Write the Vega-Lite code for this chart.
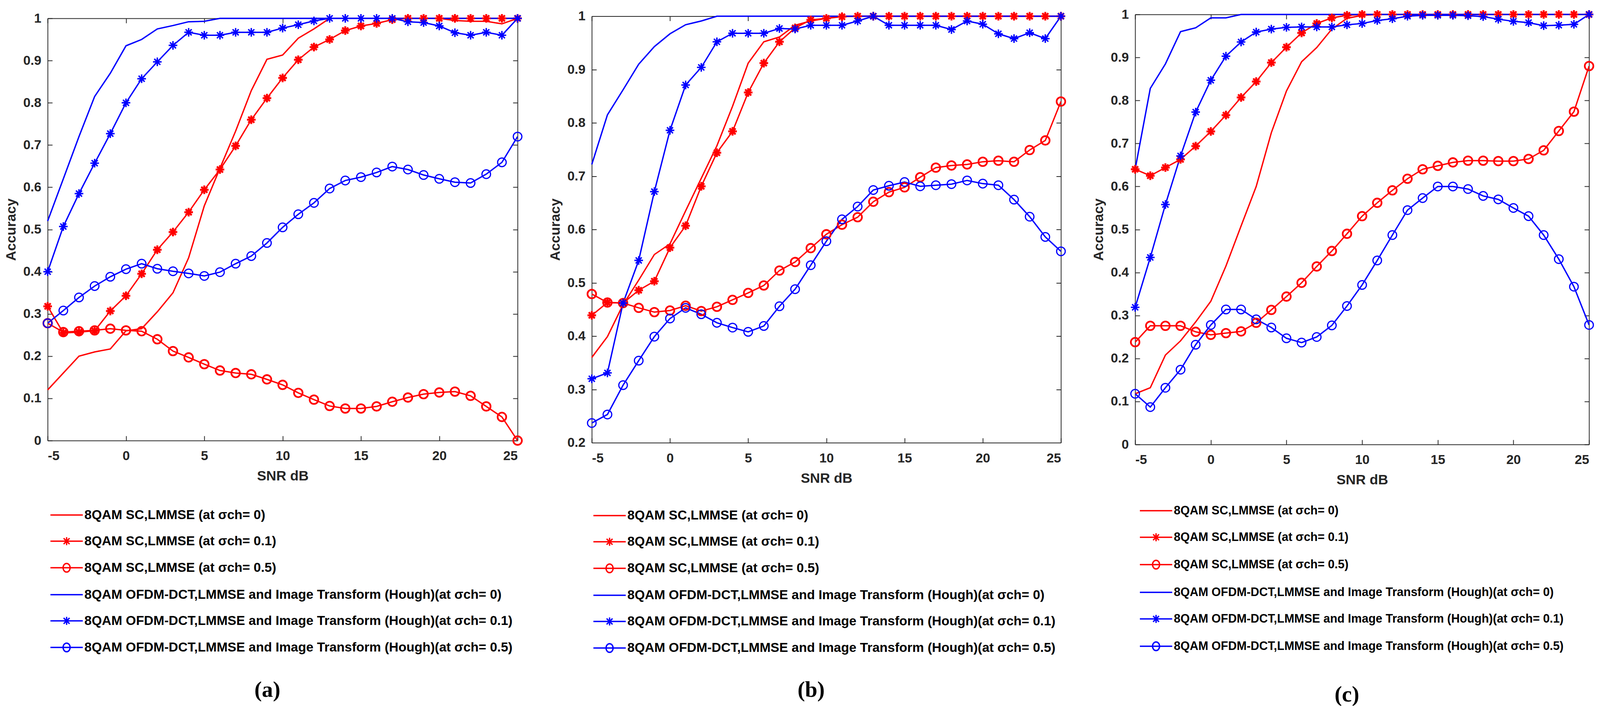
{
"$schema":"https://vega.github.io/schema/vega-lite/v6.json",
"background":"white",
"padding":{"left":11,"top":15,"right":0,"bottom":0},
"config":{
 "view":{"stroke":null},
 "axis":{"labelFont":"Liberation Sans","labelFontWeight":"bold","labelFontSize":33.5,"labelColor":"#262626","titleFont":"Liberation Sans","titleFontWeight":"bold","titleFontSize":35.5,"titleColor":"#262626","domainColor":"#262626","domainWidth":2,"tickColor":"#262626","tickWidth":2,"tickSize":-12,"grid":false},
 "legend":{"labelFont":"Liberation Sans","labelFontWeight":"bold","labelFontSize":33.5,"labelColor":"black","symbolSize":4761,"symbolStrokeWidth":3.5,"rowPadding":14,"labelOffset":9,"padding":0,"labelLimit":3000,"orient":"none"},
 "title":{"font":"Liberation Serif","fontSize":57,"fontWeight":"bold","color":"black","orient":"bottom","anchor":"middle"}
},
"datasets":{
"a":[
{"series":"SC0","snr":-5,"acc":0.12},{"series":"SC0","snr":-4,"acc":0.16},{"series":"SC0","snr":-3,"acc":0.2},{"series":"SC0","snr":-2,"acc":0.21},{"series":"SC0","snr":-1,"acc":0.217},{"series":"SC0","snr":0,"acc":0.26},{"series":"SC0","snr":1,"acc":0.265},{"series":"SC0","snr":2,"acc":0.305},{"series":"SC0","snr":3,"acc":0.35},{"series":"SC0","snr":4,"acc":0.433},{"series":"SC0","snr":5,"acc":0.556},{"series":"SC0","snr":6,"acc":0.645},{"series":"SC0","snr":7,"acc":0.733},{"series":"SC0","snr":8,"acc":0.829},{"series":"SC0","snr":9,"acc":0.903},{"series":"SC0","snr":10,"acc":0.913},{"series":"SC0","snr":11,"acc":0.953},{"series":"SC0","snr":12,"acc":0.975},{"series":"SC0","snr":13,"acc":1},{"series":"SC0","snr":14,"acc":1},{"series":"SC0","snr":15,"acc":1},{"series":"SC0","snr":16,"acc":1},{"series":"SC0","snr":17,"acc":1},{"series":"SC0","snr":18,"acc":1},{"series":"SC0","snr":19,"acc":1},{"series":"SC0","snr":20,"acc":1},{"series":"SC0","snr":21,"acc":0.995},{"series":"SC0","snr":22,"acc":0.993},{"series":"SC0","snr":23,"acc":0.993},{"series":"SC0","snr":24,"acc":0.987},{"series":"SC0","snr":25,"acc":1},
{"series":"SC1","snr":-5,"acc":0.318},{"series":"SC1","snr":-4,"acc":0.255},{"series":"SC1","snr":-3,"acc":0.257},{"series":"SC1","snr":-2,"acc":0.26},{"series":"SC1","snr":-1,"acc":0.307},{"series":"SC1","snr":0,"acc":0.343},{"series":"SC1","snr":1,"acc":0.395},{"series":"SC1","snr":2,"acc":0.452},{"series":"SC1","snr":3,"acc":0.494},{"series":"SC1","snr":4,"acc":0.541},{"series":"SC1","snr":5,"acc":0.594},{"series":"SC1","snr":6,"acc":0.642},{"series":"SC1","snr":7,"acc":0.698},{"series":"SC1","snr":8,"acc":0.76},{"series":"SC1","snr":9,"acc":0.811},{"series":"SC1","snr":10,"acc":0.859},{"series":"SC1","snr":11,"acc":0.902},{"series":"SC1","snr":12,"acc":0.932},{"series":"SC1","snr":13,"acc":0.95},{"series":"SC1","snr":14,"acc":0.971},{"series":"SC1","snr":15,"acc":0.982},{"series":"SC1","snr":16,"acc":0.988},{"series":"SC1","snr":17,"acc":0.997},{"series":"SC1","snr":18,"acc":1},{"series":"SC1","snr":19,"acc":1},{"series":"SC1","snr":20,"acc":1},{"series":"SC1","snr":21,"acc":1},{"series":"SC1","snr":22,"acc":1},{"series":"SC1","snr":23,"acc":1},{"series":"SC1","snr":24,"acc":1},{"series":"SC1","snr":25,"acc":1},
{"series":"SC5","snr":-5,"acc":0.278},{"series":"SC5","snr":-4,"acc":0.257},{"series":"SC5","snr":-3,"acc":0.259},{"series":"SC5","snr":-2,"acc":0.261},{"series":"SC5","snr":-1,"acc":0.265},{"series":"SC5","snr":0,"acc":0.261},{"series":"SC5","snr":1,"acc":0.259},{"series":"SC5","snr":2,"acc":0.24},{"series":"SC5","snr":3,"acc":0.212},{"series":"SC5","snr":4,"acc":0.197},{"series":"SC5","snr":5,"acc":0.181},{"series":"SC5","snr":6,"acc":0.166},{"series":"SC5","snr":7,"acc":0.16},{"series":"SC5","snr":8,"acc":0.157},{"series":"SC5","snr":9,"acc":0.145},{"series":"SC5","snr":10,"acc":0.132},{"series":"SC5","snr":11,"acc":0.113},{"series":"SC5","snr":12,"acc":0.097},{"series":"SC5","snr":13,"acc":0.082},{"series":"SC5","snr":14,"acc":0.076},{"series":"SC5","snr":15,"acc":0.076},{"series":"SC5","snr":16,"acc":0.081},{"series":"SC5","snr":17,"acc":0.092},{"series":"SC5","snr":18,"acc":0.102},{"series":"SC5","snr":19,"acc":0.11},{"series":"SC5","snr":20,"acc":0.114},{"series":"SC5","snr":21,"acc":0.116},{"series":"SC5","snr":22,"acc":0.106},{"series":"SC5","snr":23,"acc":0.081},{"series":"SC5","snr":24,"acc":0.056},{"series":"SC5","snr":25,"acc":0},
{"series":"OF0","snr":-5,"acc":0.52},{"series":"OF0","snr":-4,"acc":0.62},{"series":"OF0","snr":-3,"acc":0.72},{"series":"OF0","snr":-2,"acc":0.815},{"series":"OF0","snr":-1,"acc":0.87},{"series":"OF0","snr":0,"acc":0.935},{"series":"OF0","snr":1,"acc":0.95},{"series":"OF0","snr":2,"acc":0.975},{"series":"OF0","snr":3,"acc":0.983},{"series":"OF0","snr":4,"acc":0.992},{"series":"OF0","snr":5,"acc":0.993},{"series":"OF0","snr":6,"acc":1},{"series":"OF0","snr":7,"acc":1},{"series":"OF0","snr":8,"acc":1},{"series":"OF0","snr":9,"acc":1},{"series":"OF0","snr":10,"acc":1},{"series":"OF0","snr":11,"acc":1},{"series":"OF0","snr":12,"acc":1},{"series":"OF0","snr":13,"acc":1},{"series":"OF0","snr":14,"acc":1},{"series":"OF0","snr":15,"acc":1},{"series":"OF0","snr":16,"acc":1},{"series":"OF0","snr":17,"acc":1},{"series":"OF0","snr":18,"acc":1},{"series":"OF0","snr":19,"acc":1},{"series":"OF0","snr":20,"acc":1},{"series":"OF0","snr":21,"acc":1},{"series":"OF0","snr":22,"acc":1},{"series":"OF0","snr":23,"acc":1},{"series":"OF0","snr":24,"acc":1},{"series":"OF0","snr":25,"acc":1},
{"series":"OF1","snr":-5,"acc":0.4},{"series":"OF1","snr":-4,"acc":0.507},{"series":"OF1","snr":-3,"acc":0.585},{"series":"OF1","snr":-2,"acc":0.657},{"series":"OF1","snr":-1,"acc":0.727},{"series":"OF1","snr":0,"acc":0.8},{"series":"OF1","snr":1,"acc":0.857},{"series":"OF1","snr":2,"acc":0.897},{"series":"OF1","snr":3,"acc":0.936},{"series":"OF1","snr":4,"acc":0.967},{"series":"OF1","snr":5,"acc":0.96},{"series":"OF1","snr":6,"acc":0.96},{"series":"OF1","snr":7,"acc":0.967},{"series":"OF1","snr":8,"acc":0.967},{"series":"OF1","snr":9,"acc":0.967},{"series":"OF1","snr":10,"acc":0.977},{"series":"OF1","snr":11,"acc":0.985},{"series":"OF1","snr":12,"acc":0.994},{"series":"OF1","snr":13,"acc":1},{"series":"OF1","snr":14,"acc":1},{"series":"OF1","snr":15,"acc":1},{"series":"OF1","snr":16,"acc":1},{"series":"OF1","snr":17,"acc":1},{"series":"OF1","snr":18,"acc":0.992},{"series":"OF1","snr":19,"acc":0.99},{"series":"OF1","snr":20,"acc":0.982},{"series":"OF1","snr":21,"acc":0.966},{"series":"OF1","snr":22,"acc":0.96},{"series":"OF1","snr":23,"acc":0.967},{"series":"OF1","snr":24,"acc":0.96},{"series":"OF1","snr":25,"acc":1},
{"series":"OF5","snr":-5,"acc":0.278},{"series":"OF5","snr":-4,"acc":0.308},{"series":"OF5","snr":-3,"acc":0.339},{"series":"OF5","snr":-2,"acc":0.366},{"series":"OF5","snr":-1,"acc":0.388},{"series":"OF5","snr":0,"acc":0.406},{"series":"OF5","snr":1,"acc":0.419},{"series":"OF5","snr":2,"acc":0.407},{"series":"OF5","snr":3,"acc":0.401},{"series":"OF5","snr":4,"acc":0.396},{"series":"OF5","snr":5,"acc":0.39},{"series":"OF5","snr":6,"acc":0.399},{"series":"OF5","snr":7,"acc":0.419},{"series":"OF5","snr":8,"acc":0.437},{"series":"OF5","snr":9,"acc":0.468},{"series":"OF5","snr":10,"acc":0.505},{"series":"OF5","snr":11,"acc":0.536},{"series":"OF5","snr":12,"acc":0.563},{"series":"OF5","snr":13,"acc":0.597},{"series":"OF5","snr":14,"acc":0.616},{"series":"OF5","snr":15,"acc":0.624},{"series":"OF5","snr":16,"acc":0.635},{"series":"OF5","snr":17,"acc":0.649},{"series":"OF5","snr":18,"acc":0.642},{"series":"OF5","snr":19,"acc":0.629},{"series":"OF5","snr":20,"acc":0.62},{"series":"OF5","snr":21,"acc":0.612},{"series":"OF5","snr":22,"acc":0.61},{"series":"OF5","snr":23,"acc":0.631},{"series":"OF5","snr":24,"acc":0.659},{"series":"OF5","snr":25,"acc":0.72}
],
"b":[
{"series":"SC0","snr":-5,"acc":0.36},{"series":"SC0","snr":-4,"acc":0.399},{"series":"SC0","snr":-3,"acc":0.459},{"series":"SC0","snr":-2,"acc":0.505},{"series":"SC0","snr":-1,"acc":0.553},{"series":"SC0","snr":0,"acc":0.573},{"series":"SC0","snr":1,"acc":0.635},{"series":"SC0","snr":2,"acc":0.696},{"series":"SC0","snr":3,"acc":0.757},{"series":"SC0","snr":4,"acc":0.831},{"series":"SC0","snr":5,"acc":0.912},{"series":"SC0","snr":6,"acc":0.952},{"series":"SC0","snr":7,"acc":0.961},{"series":"SC0","snr":8,"acc":0.983},{"series":"SC0","snr":9,"acc":0.991},{"series":"SC0","snr":10,"acc":0.996},{"series":"SC0","snr":11,"acc":1},{"series":"SC0","snr":12,"acc":1},{"series":"SC0","snr":13,"acc":1},{"series":"SC0","snr":14,"acc":1},{"series":"SC0","snr":15,"acc":1},{"series":"SC0","snr":16,"acc":1},{"series":"SC0","snr":17,"acc":1},{"series":"SC0","snr":18,"acc":1},{"series":"SC0","snr":19,"acc":1},{"series":"SC0","snr":20,"acc":1},{"series":"SC0","snr":21,"acc":1},{"series":"SC0","snr":22,"acc":1},{"series":"SC0","snr":23,"acc":1},{"series":"SC0","snr":24,"acc":1},{"series":"SC0","snr":25,"acc":1},
{"series":"SC1","snr":-5,"acc":0.439},{"series":"SC1","snr":-4,"acc":0.463},{"series":"SC1","snr":-3,"acc":0.462},{"series":"SC1","snr":-2,"acc":0.486},{"series":"SC1","snr":-1,"acc":0.503},{"series":"SC1","snr":0,"acc":0.566},{"series":"SC1","snr":1,"acc":0.607},{"series":"SC1","snr":2,"acc":0.681},{"series":"SC1","snr":3,"acc":0.744},{"series":"SC1","snr":4,"acc":0.784},{"series":"SC1","snr":5,"acc":0.857},{"series":"SC1","snr":6,"acc":0.912},{"series":"SC1","snr":7,"acc":0.952},{"series":"SC1","snr":8,"acc":0.978},{"series":"SC1","snr":9,"acc":0.993},{"series":"SC1","snr":10,"acc":0.996},{"series":"SC1","snr":11,"acc":0.999},{"series":"SC1","snr":12,"acc":1},{"series":"SC1","snr":13,"acc":1},{"series":"SC1","snr":14,"acc":1},{"series":"SC1","snr":15,"acc":1},{"series":"SC1","snr":16,"acc":1},{"series":"SC1","snr":17,"acc":1},{"series":"SC1","snr":18,"acc":1},{"series":"SC1","snr":19,"acc":1},{"series":"SC1","snr":20,"acc":1},{"series":"SC1","snr":21,"acc":1},{"series":"SC1","snr":22,"acc":1},{"series":"SC1","snr":23,"acc":1},{"series":"SC1","snr":24,"acc":1},{"series":"SC1","snr":25,"acc":1},
{"series":"SC5","snr":-5,"acc":0.479},{"series":"SC5","snr":-4,"acc":0.463},{"series":"SC5","snr":-3,"acc":0.462},{"series":"SC5","snr":-2,"acc":0.453},{"series":"SC5","snr":-1,"acc":0.445},{"series":"SC5","snr":0,"acc":0.448},{"series":"SC5","snr":1,"acc":0.457},{"series":"SC5","snr":2,"acc":0.447},{"series":"SC5","snr":3,"acc":0.455},{"series":"SC5","snr":4,"acc":0.468},{"series":"SC5","snr":5,"acc":0.481},{"series":"SC5","snr":6,"acc":0.495},{"series":"SC5","snr":7,"acc":0.523},{"series":"SC5","snr":8,"acc":0.539},{"series":"SC5","snr":9,"acc":0.565},{"series":"SC5","snr":10,"acc":0.591},{"series":"SC5","snr":11,"acc":0.609},{"series":"SC5","snr":12,"acc":0.623},{"series":"SC5","snr":13,"acc":0.652},{"series":"SC5","snr":14,"acc":0.67},{"series":"SC5","snr":15,"acc":0.679},{"series":"SC5","snr":16,"acc":0.698},{"series":"SC5","snr":17,"acc":0.716},{"series":"SC5","snr":18,"acc":0.72},{"series":"SC5","snr":19,"acc":0.722},{"series":"SC5","snr":20,"acc":0.727},{"series":"SC5","snr":21,"acc":0.729},{"series":"SC5","snr":22,"acc":0.727},{"series":"SC5","snr":23,"acc":0.749},{"series":"SC5","snr":24,"acc":0.767},{"series":"SC5","snr":25,"acc":0.84},
{"series":"OF0","snr":-5,"acc":0.722},{"series":"OF0","snr":-4,"acc":0.815},{"series":"OF0","snr":-3,"acc":0.862},{"series":"OF0","snr":-2,"acc":0.91},{"series":"OF0","snr":-1,"acc":0.943},{"series":"OF0","snr":0,"acc":0.967},{"series":"OF0","snr":1,"acc":0.984},{"series":"OF0","snr":2,"acc":0.991},{"series":"OF0","snr":3,"acc":1},{"series":"OF0","snr":4,"acc":1},{"series":"OF0","snr":5,"acc":1},{"series":"OF0","snr":6,"acc":1},{"series":"OF0","snr":7,"acc":1},{"series":"OF0","snr":8,"acc":1},{"series":"OF0","snr":9,"acc":1},{"series":"OF0","snr":10,"acc":1},{"series":"OF0","snr":11,"acc":1},{"series":"OF0","snr":12,"acc":1},{"series":"OF0","snr":13,"acc":1},{"series":"OF0","snr":14,"acc":1},{"series":"OF0","snr":15,"acc":1},{"series":"OF0","snr":16,"acc":1},{"series":"OF0","snr":17,"acc":1},{"series":"OF0","snr":18,"acc":1},{"series":"OF0","snr":19,"acc":1},{"series":"OF0","snr":20,"acc":1},{"series":"OF0","snr":21,"acc":1},{"series":"OF0","snr":22,"acc":1},{"series":"OF0","snr":23,"acc":1},{"series":"OF0","snr":24,"acc":1},{"series":"OF0","snr":25,"acc":1},
{"series":"OF1","snr":-5,"acc":0.32},{"series":"OF1","snr":-4,"acc":0.331},{"series":"OF1","snr":-3,"acc":0.462},{"series":"OF1","snr":-2,"acc":0.542},{"series":"OF1","snr":-1,"acc":0.671},{"series":"OF1","snr":0,"acc":0.786},{"series":"OF1","snr":1,"acc":0.871},{"series":"OF1","snr":2,"acc":0.904},{"series":"OF1","snr":3,"acc":0.952},{"series":"OF1","snr":4,"acc":0.968},{"series":"OF1","snr":5,"acc":0.968},{"series":"OF1","snr":6,"acc":0.968},{"series":"OF1","snr":7,"acc":0.977},{"series":"OF1","snr":8,"acc":0.976},{"series":"OF1","snr":9,"acc":0.983},{"series":"OF1","snr":10,"acc":0.983},{"series":"OF1","snr":11,"acc":0.983},{"series":"OF1","snr":12,"acc":0.991},{"series":"OF1","snr":13,"acc":1},{"series":"OF1","snr":14,"acc":0.983},{"series":"OF1","snr":15,"acc":0.983},{"series":"OF1","snr":16,"acc":0.983},{"series":"OF1","snr":17,"acc":0.983},{"series":"OF1","snr":18,"acc":0.975},{"series":"OF1","snr":19,"acc":0.991},{"series":"OF1","snr":20,"acc":0.985},{"series":"OF1","snr":21,"acc":0.967},{"series":"OF1","snr":22,"acc":0.958},{"series":"OF1","snr":23,"acc":0.969},{"series":"OF1","snr":24,"acc":0.958},{"series":"OF1","snr":25,"acc":1},
{"series":"OF5","snr":-5,"acc":0.237},{"series":"OF5","snr":-4,"acc":0.253},{"series":"OF5","snr":-3,"acc":0.308},{"series":"OF5","snr":-2,"acc":0.354},{"series":"OF5","snr":-1,"acc":0.399},{"series":"OF5","snr":0,"acc":0.433},{"series":"OF5","snr":1,"acc":0.453},{"series":"OF5","snr":2,"acc":0.441},{"series":"OF5","snr":3,"acc":0.425},{"series":"OF5","snr":4,"acc":0.416},{"series":"OF5","snr":5,"acc":0.408},{"series":"OF5","snr":6,"acc":0.419},{"series":"OF5","snr":7,"acc":0.456},{"series":"OF5","snr":8,"acc":0.488},{"series":"OF5","snr":9,"acc":0.533},{"series":"OF5","snr":10,"acc":0.578},{"series":"OF5","snr":11,"acc":0.619},{"series":"OF5","snr":12,"acc":0.643},{"series":"OF5","snr":13,"acc":0.674},{"series":"OF5","snr":14,"acc":0.682},{"series":"OF5","snr":15,"acc":0.689},{"series":"OF5","snr":16,"acc":0.681},{"series":"OF5","snr":17,"acc":0.683},{"series":"OF5","snr":18,"acc":0.685},{"series":"OF5","snr":19,"acc":0.692},{"series":"OF5","snr":20,"acc":0.686},{"series":"OF5","snr":21,"acc":0.683},{"series":"OF5","snr":22,"acc":0.656},{"series":"OF5","snr":23,"acc":0.624},{"series":"OF5","snr":24,"acc":0.586},{"series":"OF5","snr":25,"acc":0.559}
],
"c":[
{"series":"SC0","snr":-5,"acc":0.118},{"series":"SC0","snr":-4,"acc":0.132},{"series":"SC0","snr":-3,"acc":0.208},{"series":"SC0","snr":-2,"acc":0.241},{"series":"SC0","snr":-1,"acc":0.285},{"series":"SC0","snr":0,"acc":0.333},{"series":"SC0","snr":1,"acc":0.415},{"series":"SC0","snr":2,"acc":0.508},{"series":"SC0","snr":3,"acc":0.6},{"series":"SC0","snr":4,"acc":0.725},{"series":"SC0","snr":5,"acc":0.822},{"series":"SC0","snr":6,"acc":0.89},{"series":"SC0","snr":7,"acc":0.923},{"series":"SC0","snr":8,"acc":0.966},{"series":"SC0","snr":9,"acc":0.991},{"series":"SC0","snr":10,"acc":0.998},{"series":"SC0","snr":11,"acc":1},{"series":"SC0","snr":12,"acc":1},{"series":"SC0","snr":13,"acc":1},{"series":"SC0","snr":14,"acc":1},{"series":"SC0","snr":15,"acc":1},{"series":"SC0","snr":16,"acc":1},{"series":"SC0","snr":17,"acc":1},{"series":"SC0","snr":18,"acc":1},{"series":"SC0","snr":19,"acc":1},{"series":"SC0","snr":20,"acc":1},{"series":"SC0","snr":21,"acc":1},{"series":"SC0","snr":22,"acc":1},{"series":"SC0","snr":23,"acc":1},{"series":"SC0","snr":24,"acc":1},{"series":"SC0","snr":25,"acc":1},
{"series":"SC1","snr":-5,"acc":0.64},{"series":"SC1","snr":-4,"acc":0.625},{"series":"SC1","snr":-3,"acc":0.644},{"series":"SC1","snr":-2,"acc":0.663},{"series":"SC1","snr":-1,"acc":0.694},{"series":"SC1","snr":0,"acc":0.728},{"series":"SC1","snr":1,"acc":0.766},{"series":"SC1","snr":2,"acc":0.807},{"series":"SC1","snr":3,"acc":0.844},{"series":"SC1","snr":4,"acc":0.888},{"series":"SC1","snr":5,"acc":0.924},{"series":"SC1","snr":6,"acc":0.957},{"series":"SC1","snr":7,"acc":0.979},{"series":"SC1","snr":8,"acc":0.992},{"series":"SC1","snr":9,"acc":0.998},{"series":"SC1","snr":10,"acc":1},{"series":"SC1","snr":11,"acc":1},{"series":"SC1","snr":12,"acc":1},{"series":"SC1","snr":13,"acc":1},{"series":"SC1","snr":14,"acc":1},{"series":"SC1","snr":15,"acc":1},{"series":"SC1","snr":16,"acc":1},{"series":"SC1","snr":17,"acc":1},{"series":"SC1","snr":18,"acc":1},{"series":"SC1","snr":19,"acc":1},{"series":"SC1","snr":20,"acc":1},{"series":"SC1","snr":21,"acc":1},{"series":"SC1","snr":22,"acc":1},{"series":"SC1","snr":23,"acc":1},{"series":"SC1","snr":24,"acc":1},{"series":"SC1","snr":25,"acc":1},
{"series":"SC5","snr":-5,"acc":0.238},{"series":"SC5","snr":-4,"acc":0.276},{"series":"SC5","snr":-3,"acc":0.276},{"series":"SC5","snr":-2,"acc":0.276},{"series":"SC5","snr":-1,"acc":0.262},{"series":"SC5","snr":0,"acc":0.255},{"series":"SC5","snr":1,"acc":0.259},{"series":"SC5","snr":2,"acc":0.263},{"series":"SC5","snr":3,"acc":0.283},{"series":"SC5","snr":4,"acc":0.313},{"series":"SC5","snr":5,"acc":0.344},{"series":"SC5","snr":6,"acc":0.376},{"series":"SC5","snr":7,"acc":0.414},{"series":"SC5","snr":8,"acc":0.45},{"series":"SC5","snr":9,"acc":0.49},{"series":"SC5","snr":10,"acc":0.531},{"series":"SC5","snr":11,"acc":0.562},{"series":"SC5","snr":12,"acc":0.591},{"series":"SC5","snr":13,"acc":0.618},{"series":"SC5","snr":14,"acc":0.64},{"series":"SC5","snr":15,"acc":0.648},{"series":"SC5","snr":16,"acc":0.656},{"series":"SC5","snr":17,"acc":0.66},{"series":"SC5","snr":18,"acc":0.66},{"series":"SC5","snr":19,"acc":0.659},{"series":"SC5","snr":20,"acc":0.659},{"series":"SC5","snr":21,"acc":0.664},{"series":"SC5","snr":22,"acc":0.684},{"series":"SC5","snr":23,"acc":0.729},{"series":"SC5","snr":24,"acc":0.774},{"series":"SC5","snr":25,"acc":0.88},
{"series":"OF0","snr":-5,"acc":0.64},{"series":"OF0","snr":-4,"acc":0.828},{"series":"OF0","snr":-3,"acc":0.885},{"series":"OF0","snr":-2,"acc":0.96},{"series":"OF0","snr":-1,"acc":0.969},{"series":"OF0","snr":0,"acc":0.992},{"series":"OF0","snr":1,"acc":0.992},{"series":"OF0","snr":2,"acc":1},{"series":"OF0","snr":3,"acc":1},{"series":"OF0","snr":4,"acc":1},{"series":"OF0","snr":5,"acc":1},{"series":"OF0","snr":6,"acc":1},{"series":"OF0","snr":7,"acc":1},{"series":"OF0","snr":8,"acc":1},{"series":"OF0","snr":9,"acc":1},{"series":"OF0","snr":10,"acc":1},{"series":"OF0","snr":11,"acc":1},{"series":"OF0","snr":12,"acc":1},{"series":"OF0","snr":13,"acc":1},{"series":"OF0","snr":14,"acc":1},{"series":"OF0","snr":15,"acc":1},{"series":"OF0","snr":16,"acc":1},{"series":"OF0","snr":17,"acc":1},{"series":"OF0","snr":18,"acc":1},{"series":"OF0","snr":19,"acc":1},{"series":"OF0","snr":20,"acc":1},{"series":"OF0","snr":21,"acc":1},{"series":"OF0","snr":22,"acc":1},{"series":"OF0","snr":23,"acc":1},{"series":"OF0","snr":24,"acc":1},{"series":"OF0","snr":25,"acc":1},
{"series":"OF1","snr":-5,"acc":0.319},{"series":"OF1","snr":-4,"acc":0.435},{"series":"OF1","snr":-3,"acc":0.558},{"series":"OF1","snr":-2,"acc":0.671},{"series":"OF1","snr":-1,"acc":0.773},{"series":"OF1","snr":0,"acc":0.847},{"series":"OF1","snr":1,"acc":0.903},{"series":"OF1","snr":2,"acc":0.936},{"series":"OF1","snr":3,"acc":0.959},{"series":"OF1","snr":4,"acc":0.966},{"series":"OF1","snr":5,"acc":0.97},{"series":"OF1","snr":6,"acc":0.971},{"series":"OF1","snr":7,"acc":0.971},{"series":"OF1","snr":8,"acc":0.971},{"series":"OF1","snr":9,"acc":0.976},{"series":"OF1","snr":10,"acc":0.979},{"series":"OF1","snr":11,"acc":0.986},{"series":"OF1","snr":12,"acc":0.99},{"series":"OF1","snr":13,"acc":0.996},{"series":"OF1","snr":14,"acc":0.998},{"series":"OF1","snr":15,"acc":0.998},{"series":"OF1","snr":16,"acc":0.998},{"series":"OF1","snr":17,"acc":0.997},{"series":"OF1","snr":18,"acc":0.995},{"series":"OF1","snr":19,"acc":0.989},{"series":"OF1","snr":20,"acc":0.984},{"series":"OF1","snr":21,"acc":0.981},{"series":"OF1","snr":22,"acc":0.974},{"series":"OF1","snr":23,"acc":0.975},{"series":"OF1","snr":24,"acc":0.977},{"series":"OF1","snr":25,"acc":1},
{"series":"OF5","snr":-5,"acc":0.118},{"series":"OF5","snr":-4,"acc":0.087},{"series":"OF5","snr":-3,"acc":0.132},{"series":"OF5","snr":-2,"acc":0.174},{"series":"OF5","snr":-1,"acc":0.232},{"series":"OF5","snr":0,"acc":0.278},{"series":"OF5","snr":1,"acc":0.314},{"series":"OF5","snr":2,"acc":0.314},{"series":"OF5","snr":3,"acc":0.291},{"series":"OF5","snr":4,"acc":0.272},{"series":"OF5","snr":5,"acc":0.247},{"series":"OF5","snr":6,"acc":0.237},{"series":"OF5","snr":7,"acc":0.25},{"series":"OF5","snr":8,"acc":0.277},{"series":"OF5","snr":9,"acc":0.322},{"series":"OF5","snr":10,"acc":0.371},{"series":"OF5","snr":11,"acc":0.428},{"series":"OF5","snr":12,"acc":0.487},{"series":"OF5","snr":13,"acc":0.545},{"series":"OF5","snr":14,"acc":0.573},{"series":"OF5","snr":15,"acc":0.6},{"series":"OF5","snr":16,"acc":0.6},{"series":"OF5","snr":17,"acc":0.594},{"series":"OF5","snr":18,"acc":0.578},{"series":"OF5","snr":19,"acc":0.57},{"series":"OF5","snr":20,"acc":0.55},{"series":"OF5","snr":21,"acc":0.531},{"series":"OF5","snr":22,"acc":0.487},{"series":"OF5","snr":23,"acc":0.431},{"series":"OF5","snr":24,"acc":0.367},{"series":"OF5","snr":25,"acc":0.278}
]
},
"spacing":190,
"bounds":"flush",
"center":true,
"resolve":{"scale":{"color":"independent","shape":"independent","strokeWidth":"independent"},"legend":{"color":"independent"}},
"hconcat":[
{
 "width":1203,"height":1081,
 "data":{"name":"a"},
 "title":{"text":"(a)","offset":63,"dx":-39},
 "resolve":{"axis":{"x":"independent","y":"independent"}},
 "layer":[
  {"mark":{"type":"line","strokeWidth":3.5},
   "encoding":{
    "x":{"field":"snr","type":"quantitative","scale":{"domain":[-5,25],"nice":false},"axis":{"values":[-5,0,5,10,15,20,25],"labelExpr":"datum.value + ''","title":"SNR dB","labelPadding":35.5,"titlePadding":17.5}},
    "y":{"field":"acc","type":"quantitative","scale":{"domain":[0,1],"nice":false},"axis":{"values":[0,0.1,0.2,0.3,0.4,0.5,0.6,0.7,0.8,0.9,1],"format":"~g","title":"Accuracy","labelPadding":28.5,"titlePadding":12}},
    "color":{"field":"series","type":"nominal","scale":{"domain":["SC0","SC1","SC5","OF0","OF1","OF5"],"range":["#ff0000","#ff0000","#ff0000","#0000ff","#0000ff","#0000ff"]},
     "legend":{"title":null,"legendX":12,"legendY":1235,"labelFontSize":33.5,
      "labelExpr":"datum.label=='SC0'?'8QAM SC,LMMSE (at σch= 0)':datum.label=='SC1'?'8QAM SC,LMMSE (at σch= 0.1)':datum.label=='SC5'?'8QAM SC,LMMSE (at σch= 0.5)':datum.label=='OF0'?'8QAM OFDM-DCT,LMMSE and Image Transform (Hough)(at σch= 0)':datum.label=='OF1'?'8QAM OFDM-DCT,LMMSE and Image Transform (Hough)(at σch= 0.1)':'8QAM OFDM-DCT,LMMSE and Image Transform (Hough)(at σch= 0.5)'",
      "encode":{"symbols":{"update":{"fill":{"value":"transparent"},"shape":{"signal":"(datum.value=='SC0'||datum.value=='OF0')?'M-1.2,0H1.2':(datum.value=='SC1'||datum.value=='OF1')?'M-1.2,0H1.2M0,-0.3V0.3M-0.22,-0.22L0.22,0.22M-0.22,0.22L0.22,-0.22':'M-1.2,0H1.2M0.26,0A0.26,0.32 0 1 1 -0.26,0A0.26,0.32 0 1 1 0.26,0'"}}}}}}
   }},
  {"transform":[{"filter":"datum.series!='SC0' && datum.series!='OF0'"}],
   "mark":{"type":"point","filled":false,"opacity":1},
   "encoding":{
    "x":{"field":"snr","type":"quantitative","scale":{"domain":[-5,25],"nice":false},"axis":{"orient":"top","values":[-5,0,5,10,15,20,25],"labels":false,"title":null}},
    "y":{"field":"acc","type":"quantitative","scale":{"domain":[0,1],"nice":false},"axis":{"orient":"right","values":[0,0.1,0.2,0.3,0.4,0.5,0.6,0.7,0.8,0.9,1],"labels":false,"title":null}},
    "color":{"field":"series","type":"nominal","scale":{"domain":["SC0","SC1","SC5","OF0","OF1","OF5"],"range":["#ff0000","#ff0000","#ff0000","#0000ff","#0000ff","#0000ff"]}},
    "shape":{"field":"series","type":"nominal","scale":{"domain":["SC1","SC5","OF1","OF5"],"range":["M0,-1V1M-1,0H1M-0.7,-0.7L0.7,0.7M-0.7,0.7L0.7,-0.7","circle","M0,-1V1M-1,0H1M-0.7,-0.7L0.7,0.7M-0.7,0.7L0.7,-0.7","circle"]},"legend":null},
    "strokeWidth":{"field":"series","type":"nominal","scale":{"domain":["SC1","SC5","OF1","OF5"],"range":[5,3,5,3]},"legend":null},
    "size":{"value":486}
   }}
 ]
},
{
 "width":1201,"height":1092,
 "data":{"name":"b"},
 "title":{"text":"(b)","offset":61,"dx":-39},
 "resolve":{"axis":{"x":"independent","y":"independent"}},
 "layer":[
  {"mark":{"type":"line","strokeWidth":3.5},
   "encoding":{
    "x":{"field":"snr","type":"quantitative","scale":{"domain":[-5,25],"nice":false},"axis":{"values":[-5,0,5,10,15,20,25],"labelExpr":"datum.value + ''","title":"SNR dB","labelPadding":35.5,"titlePadding":17.5}},
    "y":{"field":"acc","type":"quantitative","scale":{"domain":[0.2,1],"nice":false},"axis":{"values":[0.2,0.3,0.4,0.5,0.6,0.7,0.8,0.9,1],"format":"~g","title":"Accuracy","labelPadding":28.5,"titlePadding":12}},
    "color":{"field":"series","type":"nominal","scale":{"domain":["SC0","SC1","SC5","OF0","OF1","OF5"],"range":["#ff0000","#ff0000","#ff0000","#0000ff","#0000ff","#0000ff"]},
     "legend":{"title":null,"legendX":9,"legendY":1242,"labelFontSize":33.5,
      "labelExpr":"datum.label=='SC0'?'8QAM SC,LMMSE (at σch= 0)':datum.label=='SC1'?'8QAM SC,LMMSE (at σch= 0.1)':datum.label=='SC5'?'8QAM SC,LMMSE (at σch= 0.5)':datum.label=='OF0'?'8QAM OFDM-DCT,LMMSE and Image Transform (Hough)(at σch= 0)':datum.label=='OF1'?'8QAM OFDM-DCT,LMMSE and Image Transform (Hough)(at σch= 0.1)':'8QAM OFDM-DCT,LMMSE and Image Transform (Hough)(at σch= 0.5)'",
      "encode":{"symbols":{"update":{"fill":{"value":"transparent"},"shape":{"signal":"(datum.value=='SC0'||datum.value=='OF0')?'M-1.2,0H1.2':(datum.value=='SC1'||datum.value=='OF1')?'M-1.2,0H1.2M0,-0.3V0.3M-0.22,-0.22L0.22,0.22M-0.22,0.22L0.22,-0.22':'M-1.2,0H1.2M0.26,0A0.26,0.32 0 1 1 -0.26,0A0.26,0.32 0 1 1 0.26,0'"}}}}}}
   }},
  {"transform":[{"filter":"datum.series!='SC0' && datum.series!='OF0'"}],
   "mark":{"type":"point","filled":false,"opacity":1},
   "encoding":{
    "x":{"field":"snr","type":"quantitative","scale":{"domain":[-5,25],"nice":false},"axis":{"orient":"top","values":[-5,0,5,10,15,20,25],"labels":false,"title":null}},
    "y":{"field":"acc","type":"quantitative","scale":{"domain":[0.2,1],"nice":false},"axis":{"orient":"right","values":[0.2,0.3,0.4,0.5,0.6,0.7,0.8,0.9,1],"labels":false,"title":null}},
    "color":{"field":"series","type":"nominal","scale":{"domain":["SC0","SC1","SC5","OF0","OF1","OF5"],"range":["#ff0000","#ff0000","#ff0000","#0000ff","#0000ff","#0000ff"]}},
    "shape":{"field":"series","type":"nominal","scale":{"domain":["SC1","SC5","OF1","OF5"],"range":["M0,-1V1M-1,0H1M-0.7,-0.7L0.7,0.7M-0.7,0.7L0.7,-0.7","circle","M0,-1V1M-1,0H1M-0.7,-0.7L0.7,0.7M-0.7,0.7L0.7,-0.7","circle"]},"legend":null},
    "strokeWidth":{"field":"series","type":"nominal","scale":{"domain":["SC1","SC5","OF1","OF5"],"range":[5,3,5,3]},"legend":null},
    "size":{"value":486}
   }}
 ]
},
{
 "width":1162,"height":1101,
 "data":{"name":"c"},
 "title":{"text":"(c)","offset":78,"dx":-39},
 "resolve":{"axis":{"x":"independent","y":"independent"}},
 "layer":[
  {"mark":{"type":"line","strokeWidth":3.5},
   "encoding":{
    "x":{"field":"snr","type":"quantitative","scale":{"domain":[-5,25],"nice":false},"axis":{"values":[-5,0,5,10,15,20,25],"labelExpr":"datum.value + ''","title":"SNR dB","labelPadding":35.5,"titlePadding":17.5}},
    "y":{"field":"acc","type":"quantitative","scale":{"domain":[0,1],"nice":false},"axis":{"values":[0,0.1,0.2,0.3,0.4,0.5,0.6,0.7,0.8,0.9,1],"format":"~g","title":"Accuracy","labelPadding":28.5,"titlePadding":12}},
    "color":{"field":"series","type":"nominal","scale":{"domain":["SC0","SC1","SC5","OF0","OF1","OF5"],"range":["#ff0000","#ff0000","#ff0000","#0000ff","#0000ff","#0000ff"]},
     "legend":{"title":null,"legendX":17,"legendY":1234,"labelFontSize":30.5,"rowPadding":16,
      "labelExpr":"datum.label=='SC0'?'8QAM SC,LMMSE (at σch= 0)':datum.label=='SC1'?'8QAM SC,LMMSE (at σch= 0.1)':datum.label=='SC5'?'8QAM SC,LMMSE (at σch= 0.5)':datum.label=='OF0'?'8QAM OFDM-DCT,LMMSE and Image Transform (Hough)(at σch= 0)':datum.label=='OF1'?'8QAM OFDM-DCT,LMMSE and Image Transform (Hough)(at σch= 0.1)':'8QAM OFDM-DCT,LMMSE and Image Transform (Hough)(at σch= 0.5)'",
      "encode":{"symbols":{"update":{"fill":{"value":"transparent"},"shape":{"signal":"(datum.value=='SC0'||datum.value=='OF0')?'M-1.2,0H1.2':(datum.value=='SC1'||datum.value=='OF1')?'M-1.2,0H1.2M0,-0.3V0.3M-0.22,-0.22L0.22,0.22M-0.22,0.22L0.22,-0.22':'M-1.2,0H1.2M0.26,0A0.26,0.32 0 1 1 -0.26,0A0.26,0.32 0 1 1 0.26,0'"}}}}}}
   }},
  {"transform":[{"filter":"datum.series!='SC0' && datum.series!='OF0'"}],
   "mark":{"type":"point","filled":false,"opacity":1},
   "encoding":{
    "x":{"field":"snr","type":"quantitative","scale":{"domain":[-5,25],"nice":false},"axis":{"orient":"top","values":[-5,0,5,10,15,20,25],"labels":false,"title":null}},
    "y":{"field":"acc","type":"quantitative","scale":{"domain":[0,1],"nice":false},"axis":{"orient":"right","values":[0,0.1,0.2,0.3,0.4,0.5,0.6,0.7,0.8,0.9,1],"labels":false,"title":null}},
    "color":{"field":"series","type":"nominal","scale":{"domain":["SC0","SC1","SC5","OF0","OF1","OF5"],"range":["#ff0000","#ff0000","#ff0000","#0000ff","#0000ff","#0000ff"]}},
    "shape":{"field":"series","type":"nominal","scale":{"domain":["SC1","SC5","OF1","OF5"],"range":["M0,-1V1M-1,0H1M-0.7,-0.7L0.7,0.7M-0.7,0.7L0.7,-0.7","circle","M0,-1V1M-1,0H1M-0.7,-0.7L0.7,0.7M-0.7,0.7L0.7,-0.7","circle"]},"legend":null},
    "strokeWidth":{"field":"series","type":"nominal","scale":{"domain":["SC1","SC5","OF1","OF5"],"range":[5,3,5,3]},"legend":null},
    "size":{"value":486}
   }}
 ]
}
]
}
